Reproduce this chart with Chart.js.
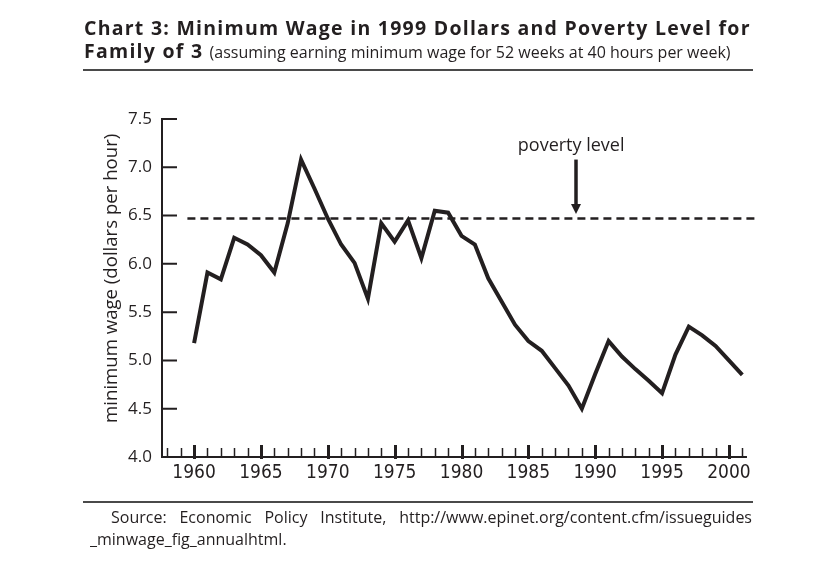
<!DOCTYPE html>
<html>
<head>
<meta charset="utf-8">
<script src="https://cdn.jsdelivr.net/npm/chart.js@4/dist/chart.umd.min.js"></script>
<style>
  html, body { margin: 0; padding: 0; background: #fff; }
  body { width: 837px; height: 573px; position: relative; overflow: hidden; font-family: "Open Sans", sans-serif; color: #231f20; }
  #grafico { position: absolute; left: 0; top: 0; }
  .titulo { position: absolute; left: 84px; top: 16px; font-size: 19.5px; font-weight: 700; line-height: 23px; letter-spacing: 1.25px; white-space: nowrap; }
  .titulo .sub { font-size: 16px; font-weight: 400; letter-spacing: 0; }
  .regua { position: absolute; left: 83px; width: 670px; height: 2px; background: #4a4a4a; }
  .fonte { position: absolute; left: 90px; width: 662px; font-size: 16px; line-height: 22px; white-space: nowrap; }
  .fonte .l1 { text-indent: 21px; text-align: justify; text-align-last: justify; }
</style>
</head>
<body>
<canvas id="grafico" width="837" height="573"></canvas>
<div class="titulo">Chart 3: Minimum Wage in 1999 Dollars and Poverty Level for<br>Family of 3 <span class="sub">(assuming earning minimum wage for 52 weeks at 40 hours per week)</span></div>
<div class="regua" style="top:69px"></div>
<div class="regua" style="top:501px"></div>
<div class="fonte" style="top:506px">
  <div class="l1">Source: Economic Policy Institute, http://www.epinet.org/content.cfm/issueguides</div>
  <div>_minwage_fig_annualhtml.</div>
</div>
<script>
const anos = [
    1960, 1961, 1962, 1963, 1964, 1965, 1966, 1967, 1968, 1969,
    1970, 1971, 1972, 1973, 1974, 1975, 1976, 1977, 1978, 1979,
    1980, 1981, 1982, 1983, 1984, 1985, 1986, 1987, 1988, 1989,
    1990, 1991, 1992, 1993, 1994, 1995, 1996, 1997, 1998, 1999,
    2000, 2001
];
const salarioMinimo = [
    5.18, 5.91, 5.84, 6.27, 6.20, 6.09, 5.91, 6.42, 7.08, 6.78,
    6.47, 6.20, 6.01, 5.64, 6.42, 6.23, 6.45, 6.06, 6.55, 6.53,
    6.29, 6.20, 5.85, 5.61, 5.37, 5.20, 5.10, 4.92, 4.74, 4.50,
    4.86, 5.20, 5.04, 4.91, 4.79, 4.66, 5.06, 5.35, 5.26, 5.15,
    5.00, 4.85
];
const anosPobreza = [1959.5, 2002.1];
const nivelPobreza = [6.47, 6.47];
const rotulosAnos = [1960, 1965, 1970, 1975, 1980, 1985, 1990, 1995, 2000];
const rotulosY = [4.0, 4.5, 5.0, 5.5, 6.0, 6.5, 7.0, 7.5];
const tituloY = "minimum wage (dollars per hour)";
const textoPobreza = "poverty level";

const corTinta = "#231f20";
const fonteNormal = "'Open Sans', sans-serif";
const fonteEstreita = "'Liberation Sans Narrow', 'DejaVu Sans Condensed', sans-serif";

// eixos, marcas e anotação desenhados a partir das escalas do próprio Chart.js
const eixosPlugin = {
    id: "eixos",
    afterDatasetsDraw(chart) {
        const ctx = chart.ctx;
        const x = chart.scales.x;
        const y = chart.scales.y;
        const area = chart.chartArea;
        const base = y.getPixelForValue(4.0);
        const esquerda = area.left;

        ctx.save();
        ctx.strokeStyle = corTinta;
        ctx.fillStyle = corTinta;
        ctx.lineCap = "butt";

        // eixo y com marcas para dentro
        ctx.lineWidth = 2;
        ctx.beginPath();
        ctx.moveTo(esquerda, y.getPixelForValue(7.5) - 1);
        ctx.lineTo(esquerda, base + 1);
        rotulosY.forEach(v => {
            const py = y.getPixelForValue(v);
            ctx.moveTo(esquerda, py);
            ctx.lineTo(esquerda + 15, py);
        });
        ctx.stroke();

        // eixo x
        ctx.beginPath();
        ctx.moveTo(esquerda - 1, base);
        ctx.lineTo(x.getPixelForValue(2001.35), base);
        ctx.stroke();

        for (let ano = 1958; ano <= 2001; ano++) {
            const px = Math.round(x.getPixelForValue(ano)) + 0.5;
            ctx.beginPath();
            if (ano % 5 === 0) {
                ctx.lineWidth = 3;
                ctx.moveTo(px, base + 2);
                ctx.lineTo(px, base - 12);
            } else {
                ctx.lineWidth = 1.5;
                ctx.moveTo(px, base);
                ctx.lineTo(px, base - 9);
            }
            ctx.stroke();
        }

        // título do eixo y
        ctx.font = "18.6px " + fonteNormal;
        ctx.textAlign = "center";
        ctx.textBaseline = "alphabetic";
        ctx.save();
        ctx.translate(117, y.getPixelForValue(5.85));
        ctx.rotate(-Math.PI / 2);
        ctx.fillText(tituloY, 0, 0);
        ctx.restore();

        // anotação "poverty level" com seta
        ctx.font = "18px " + fonteNormal;
        const ax = Math.round(x.getPixelForValue(1988.6));
        ctx.fillText(textoPobreza, x.getPixelForValue(1988.2), y.getPixelForValue(7.17));
        const topo = y.getPixelForValue(7.08);
        const ponta = y.getPixelForValue(6.515);
        ctx.lineWidth = 3.5;
        ctx.beginPath();
        ctx.moveTo(ax, topo);
        ctx.lineTo(ax, ponta - 8);
        ctx.stroke();
        ctx.beginPath();
        ctx.moveTo(ax - 5, ponta - 10);
        ctx.lineTo(ax + 5, ponta - 10);
        ctx.lineTo(ax, ponta);
        ctx.closePath();
        ctx.fill();

        ctx.restore();
    }
};

new Chart(document.getElementById("grafico"), {
    type: "line",
    data: {
        datasets: [
            {
                data: anos.map((a, i) => ({ x: a, y: salarioMinimo[i] })),
                borderColor: corTinta,
                borderWidth: 4,
                borderJoinStyle: "miter",
                pointRadius: 0,
                tension: 0,
                fill: false
            },
            {
                data: anosPobreza.map((a, i) => ({ x: a, y: nivelPobreza[i] })),
                borderColor: corTinta,
                borderWidth: 2.5,
                borderDash: [8, 5],
                pointRadius: 0,
                fill: false
            }
        ]
    },
    options: {
        responsive: false,
        animation: false,
        events: [],
        layout: { padding: { left: 0, top: 119, right: 80, bottom: 76 } },
        plugins: {
            legend: { display: false },
            tooltip: { enabled: false }
        },
        scales: {
            x: {
                type: "linear",
                min: 1957.6,
                max: 2002.1,
                afterFit: s => { s.height = 40; },
                grid: { display: false, drawTicks: false },
                border: { display: false },
                ticks: {
                    stepSize: 1,
                    autoSkip: false,
                    maxRotation: 0,
                    includeBounds: false,
                    padding: 5,
                    color: corTinta,
                    font: { family: fonteEstreita, size: 19 },
                    callback: v => rotulosAnos.includes(v) ? String(v) : ""
                }
            },
            y: {
                min: 4,
                max: 7.5,
                afterFit: s => { s.width = 162; },
                grid: { display: false, drawTicks: false },
                border: { display: false },
                ticks: {
                    stepSize: 0.5,
                    padding: 10,
                    color: corTinta,
                    font: { family: fonteNormal, size: 17 },
                    callback: v => v.toFixed(1)
                }
            }
        }
    },
    plugins: [eixosPlugin]
});
</script>
</body>
</html>
